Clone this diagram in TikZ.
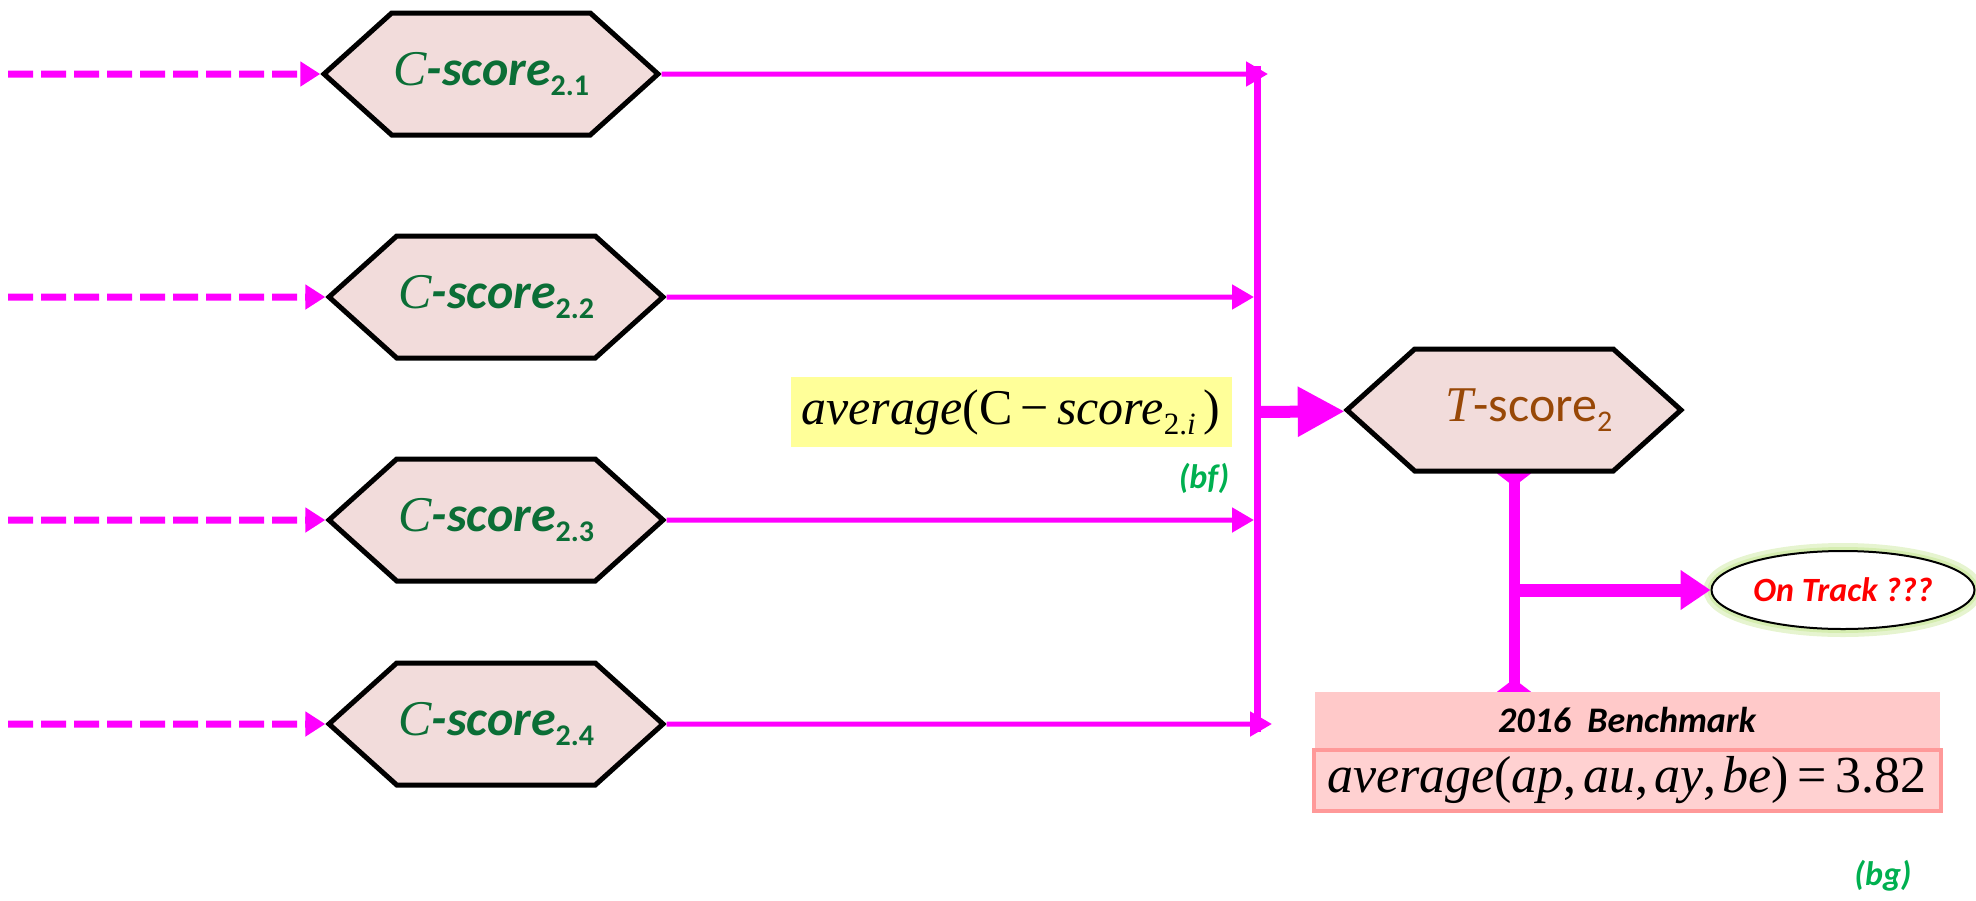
\documentclass[tikz,border=0pt]{standalone}
\usepackage{fontspec}
\setmainfont{Carlito}
\newfontfamily\tms{Liberation Serif}
\usetikzlibrary{arrows.meta, positioning, shapes.symbols, shapes.geometric, backgrounds}

\definecolor{pmag}{RGB}{255,0,255}
\definecolor{hexfill}{HTML}{F2DCDB}
\definecolor{cgreen}{HTML}{0B6E36}
\definecolor{tbrown}{HTML}{984807}
\definecolor{labgreen}{HTML}{00B050}
\definecolor{avgyellow}{HTML}{FFFF99}
\definecolor{benchpink}{HTML}{FFC9C9}
\definecolor{benchline}{HTML}{FF9999}
\definecolor{glowgreen}{HTML}{D5EDB0}

\newcommand{\cscore}[1]{{\tms\itshape C}\textbf{\textit{-score}}\raisebox{-10pt}{\fontsize{30}{30}\selectfont\bfseries #1}}
\newcommand{\tscore}{{\tms\itshape T}-score\raisebox{-10pt}{\fontsize{30}{30}\selectfont 2}}

\begin{document}
\begin{tikzpicture}[
    x=1pt, y=-1pt,
    on grid,
    hexa/.style={signal, signal to=west and east, signal pointer angle=84,
        draw=black, line width=5pt, fill=hexfill, inner sep=0pt,
        minimum width=334pt, minimum height=122pt},
    dashin/.style={-{Triangle[length=20pt,width=24pt]}, pmag, line width=7pt,
        dash pattern=on 25pt off 8pt},
    feed/.style={-{Triangle[length=22pt,width=24pt]}, pmag, line width=5pt},
    bus/.style={pmag, line width=7pt},
    bigarrow/.style={-{Triangle[length=47pt,width=47pt]}, pmag, line width=12pt},
    okarrow/.style={-{Triangle[length=30pt,width=38pt]}, pmag, line width=13pt},
    tline/.style={{Diamond[length=26pt,width=34pt]}-{Diamond[length=26pt,width=34pt]},
        pmag, line width=11pt, shorten <=-13pt, shorten >=-13pt},
    tag/.style={text=labgreen, font=\fontsize{34}{36}\selectfont\bfseries\itshape},
]
    \useasboundingbox (0,0) rectangle (1976,900);

    % C-scores
    \node[hexa, text=cgreen, font=\fontsize{50}{54}\selectfont] (C1) at (491,74)  {\cscore{2.1}};
    \node[hexa, text=cgreen, font=\fontsize{50}{54}\selectfont] (C2) at (496,297) {\cscore{2.2}};
    \node[hexa, text=cgreen, font=\fontsize{50}{54}\selectfont] (C3) at (496,520) {\cscore{2.3}};
    \node[hexa, text=cgreen, font=\fontsize{50}{54}\selectfont] (C4) at (496,724) {\cscore{2.4}};

    % T-score and what follows
    \node[hexa, text=tbrown, font=\fontsize{50}{54}\selectfont] (T) at (1514,410) {\hspace{30pt}\tscore};
    \node[ellipse, draw=black, line width=2pt, fill=white, minimum width=263pt, minimum height=78pt,
        preaction={draw=glowgreen, line width=16pt, opacity=0.6},
        preaction={draw=glowgreen, line width=8pt},
        text=red, font=\fontsize{34}{36}\selectfont\bfseries\itshape,
        below right=180pt and 329pt of T] (OT) {On Track ???};
    \node[fill=benchpink, minimum width=625pt, minimum height=56pt, inner sep=0pt,
        font=\fontsize{36}{40}\selectfont\bfseries\itshape] (bench) at (1627,720) {2016~~Benchmark};
    \node[draw=benchline, line width=4pt, fill=benchpink!85!white, minimum width=627pt,
        minimum height=61pt, inner sep=0pt, font=\tms\fontsize{52}{56}\selectfont,
        below=60pt of bench] (formula)
        {\textit{average}(\textit{ap},\hspace{0.12em}\textit{au},\hspace{0.12em}\textit{ay},\hspace{0.12em}\textit{be})\,=\,3.82};

    % average label
    \node[fill=avgyellow, minimum width=441pt, minimum height=70pt, inner sep=0pt,
        font=\tms\fontsize{50}{54}\selectfont] (avg) at (1011,412)
        {\textit{average}(C\,−\,\textit{score}\raisebox{-10pt}{\fontsize{31}{31}\selectfont 2.\textit{i}}\,)};
    \node[tag] (bf) at (1204,478) {(bf)};
    \node[tag] (bg) at (1883,876) {(bg)};

    % points
    \coordinate (in1) at (8,74);
    \coordinate (in2) at (8,297);
    \coordinate (in3) at (8,520);
    \coordinate (in4) at (8,724);
    \coordinate (bus1) at (1268,74);
    \coordinate (bus2) at (1254,297);
    \coordinate (bus3) at (1254,520);
    \coordinate (bus4) at (1272,724);
    \coordinate (bustop) at (1257,66);
    \coordinate (busbot) at (1257,732);
    \coordinate (busmid) at (1257,412);

    \path[dashin]
        (in1) edge (C1)
        (in2) edge (C2)
        (in3) edge (C3)
        (in4) edge (C4)
    ;
    \path[feed]
        (C1) edge (bus1)
        (C2) edge (bus2)
        (C3) edge (bus3)
        (C4) edge (bus4)
    ;
    \draw[bus] (bustop) -- (busbot);
    \path[bigarrow] (busmid) edge (T);

    \begin{scope}[on background layer]
        \draw[tline] (T.south) -- (T.south |- bench.north);
    \end{scope}
    \path[okarrow] (T.south |- OT.west) edge (OT);
\end{tikzpicture}
\end{document}
